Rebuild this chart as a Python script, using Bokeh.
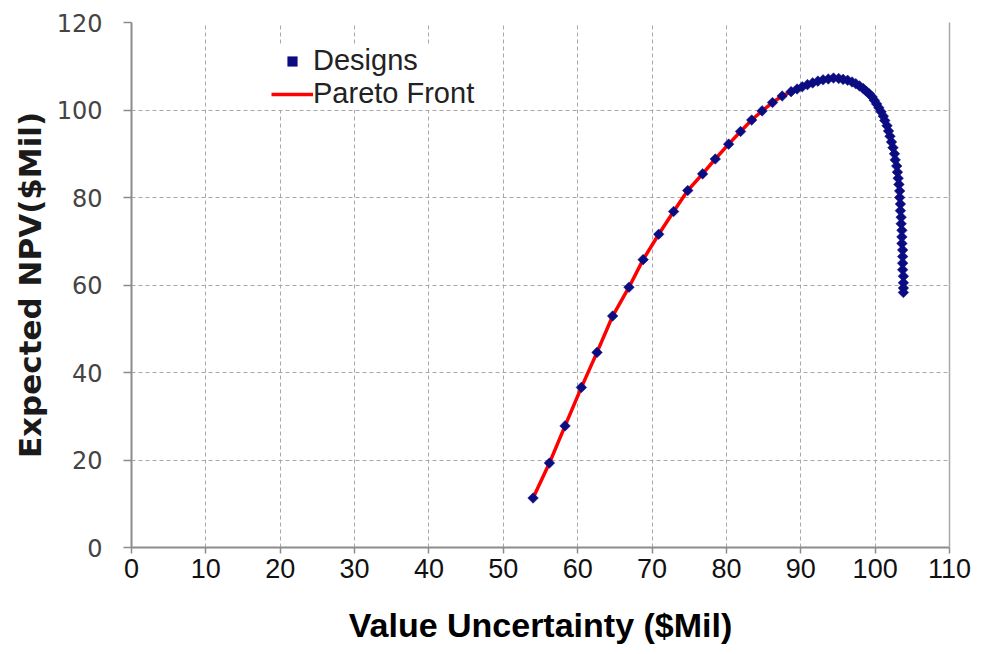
import math

from bokeh.plotting import figure
from bokeh.models import Range1d, FixedTicker, LinearAxis, Legend, LegendItem
from bokeh.embed import file_html
from bokeh.resources import INLINE

# Design alternatives: value uncertainty vs expected NPV, both in $Mil
design_uncertainty = [
    54.0, 56.2, 58.3, 60.5, 62.6, 64.7, 66.9, 68.8, 70.9, 72.9,
    74.8, 76.8, 78.5, 80.3, 81.9, 83.4, 84.8, 86.2, 87.5, 88.7,
    89.5, 90.2, 90.9, 91.6, 92.3, 93.0, 93.7, 94.4, 95.1, 95.7,
    96.3, 96.9, 97.4, 97.9, 98.4, 98.8, 99.2, 99.6, 99.9, 100.2,
    100.5, 100.8, 101.1, 101.3, 101.6, 101.8, 102.0, 102.2, 102.4, 102.6,
    102.7, 102.9, 103.0, 103.1, 103.2, 103.3, 103.3, 103.4, 103.4, 103.5,
    103.5, 103.6, 103.6, 103.6, 103.7, 103.7, 103.7, 103.7, 103.8, 103.8,
    103.8, 103.8,
]
design_npv = [
    11.3, 19.3, 27.8, 36.6, 44.6, 52.9, 59.5, 65.8, 71.6, 76.8,
    81.6, 85.4, 88.8, 92.2, 95.1, 97.7, 99.8, 101.7, 103.2, 104.2,
    104.8, 105.3, 105.8, 106.2, 106.6, 106.9, 107.1, 107.3, 107.2, 107.0,
    106.8, 106.4, 106.0, 105.5, 104.9, 104.3, 103.7, 103.0, 102.2, 101.4,
    100.5, 99.6, 98.6, 97.6, 96.4, 95.2, 94.0, 92.7, 91.4, 90.0,
    88.6, 87.2, 85.8, 84.4, 83.0, 81.5, 80.0, 78.5, 77.0, 75.5,
    74.0, 72.5, 71.0, 69.5, 68.0, 66.5, 65.0, 63.5, 62.0, 60.5,
    59.3, 58.3,
]

x_ticks = [0, 10, 20, 30, 40, 50, 60, 70, 80, 90, 100, 110]
y_ticks = [0, 20, 40, 60, 80, 100, 120]

# Pareto front: designs not dominated (lower uncertainty, higher NPV)
pareto_x, pareto_y = [], []
best = -math.inf
for ux, uy in sorted(zip(design_uncertainty, design_npv), key=lambda t: (t[0], -t[1])):
    if uy > best:
        pareto_x.append(ux)
        pareto_y.append(uy)
        best = uy

GRID = "#a8a8a8"
AXIS = "#8c8c8c"
NAVY = "#0c0c82"

p = figure(
    width=982, height=654,
    output_backend="svg", toolbar_location=None,
    x_range=Range1d(0, 110), y_range=Range1d(0, 120),
    min_border_left=131, min_border_right=33,
    min_border_top=22, min_border_bottom=107,
    background_fill_color="white", border_fill_color="white",
    outline_line_color=None,
)

# axes
p.xaxis.ticker = FixedTicker(ticks=x_ticks)
p.yaxis.ticker = FixedTicker(ticks=y_ticks)
p.xgrid.ticker = FixedTicker(ticks=x_ticks)
p.ygrid.ticker = FixedTicker(ticks=y_ticks)

for ax in (p.xaxis[0], p.yaxis[0]):
    ax.axis_line_color = AXIS
    ax.axis_line_width = 2
    ax.major_tick_line_color = AXIS
    ax.major_tick_line_width = 1.5
    ax.major_tick_in = 0
    ax.minor_tick_line_color = None

p.xaxis.major_tick_out = 6
p.yaxis.major_tick_out = 8

p.xaxis.axis_label = "Value Uncertainty ($Mil)"
p.xaxis.axis_label_text_font = "Liberation Sans"
p.xaxis.axis_label_text_font_size = "34px"
p.xaxis.axis_label_text_font_style = "bold"
p.xaxis.axis_label_text_color = "#000000"
p.xaxis.axis_label_standoff = 25
p.xaxis.major_label_text_font = "'Liberation Sans Narrow', 'Liberation Sans', sans-serif"
p.xaxis.major_label_text_font_size = "27px"
p.xaxis.major_label_text_color = "#111111"
p.xaxis.major_label_standoff = 5

p.yaxis.axis_label = "Expected NPV($Mil)"
p.yaxis.axis_label_text_font = "DejaVu Sans"
p.yaxis.axis_label_text_font_size = "31px"
p.yaxis.axis_label_text_font_style = "bold"
p.yaxis.axis_label_text_color = "#1a1a1a"
p.yaxis.axis_label_standoff = 6
p.yaxis.major_label_text_font = "DejaVu Sans"
p.yaxis.major_label_text_font_size = "24px"
p.yaxis.major_label_text_color = "#444444"
p.yaxis.major_label_standoff = 21

# thin frame line along the right edge
right_edge = LinearAxis(
    ticker=FixedTicker(ticks=[]),
    axis_line_color=GRID, axis_line_width=1.5,
    major_tick_line_color=None, minor_tick_line_color=None,
    major_label_text_font_size="0px",
)
p.add_layout(right_edge, "right")

# dashed grid
for g in (p.xgrid[0], p.ygrid[0]):
    g.grid_line_color = GRID
    g.grid_line_width = 1
    g.grid_line_dash = "4 3"

# Pareto front line under the design markers
front = p.line(pareto_x, pareto_y, line_color="#ff0000", line_width=3.5)
designs = p.scatter(
    design_uncertainty, design_npv,
    marker="square", angle=math.pi / 4, size=7.5,
    fill_color=NAVY, line_color=NAVY, line_width=0.5,
)

legend = Legend(
    items=[
        LegendItem(label="Designs", renderers=[designs]),
        LegendItem(label="Pareto Front", renderers=[front]),
    ],
    location=(140, 437),
    orientation="vertical",
    background_fill_color="white", background_fill_alpha=1.0,
    border_line_color=None,
    padding=0, margin=0, spacing=0,
    glyph_width=42, glyph_height=24, label_height=24,
    label_standoff=0,
    label_text_font="Liberation Sans",
    label_text_font_size="29px",
    label_text_color="#222222",
)
p.add_layout(legend)

open("out.html", "w").write(file_html(p, INLINE))
